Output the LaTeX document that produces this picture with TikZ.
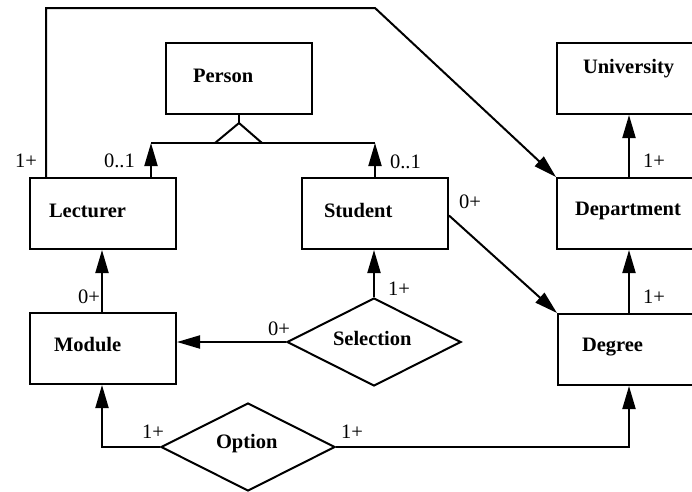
\documentclass[tikz,border=0pt]{standalone}
\usepackage{fontspec}
\setmainfont{Liberation Serif}
\usetikzlibrary{arrows.meta,shapes.geometric}
\begin{document}
\begin{tikzpicture}[x=1pt,y=-1pt,
  line width=2pt, line join=miter,
  entity/.style={draw,rectangle,minimum width=146pt,minimum height=71pt,inner sep=0pt,anchor=north west},
  relation/.style={draw,diamond,aspect=2,minimum width=174pt,minimum height=88pt,inner sep=0pt},
  title/.style={font=\fontsize{20.5}{24}\selectfont\bfseries,inner sep=0pt,anchor=base west},
  card/.style={font=\fontsize{20.5}{24}\selectfont,inner sep=0pt,anchor=base west},
  arr/.style={-{Triangle[length=23pt,width=13pt]}}]
\useasboundingbox (0,0) rectangle (692,491);
\clip (0,0) rectangle (692,491);

% entities
\node[entity] (person)     at (165,42)  {};
\node[entity] (lecturer)   at (29,177)  {};
\node[entity] (student)    at (301,177) {};
\node[entity] (module)     at (29,312)  {};
\node[entity] (university) at (556,42)  {};
\node[entity] (department) at (556,177) {};
\node[entity] (degree)     at (557,313) {};

% relationships
\node[relation] (selection) at (374,342) {};
\node[relation] (option)    at (248,447) {};

% entity and relationship names
\node[title] (tperson)     at (192,82)  {Person};
\node[title] (tlecturer)   at (48,217)  {Lecturer};
\node[title] (tstudent)    at (323,217) {Student};
\node[title] (tmodule)     at (53,351)  {Module};
\node[title] (tuniversity) at (582,73)  {University};
\node[title] (tdepartment) at (574,215) {Department};
\node[title] (tdegree)     at (581,351) {Degree};
\node[title] (tselection)  at (332,345) {Selection};
\node[title] (toption)     at (215,448) {Option};

% generalisation: Person -> Lecturer / Student
\coordinate (busL) at (151,143);
\coordinate (busR) at (375,143);
\draw (person.south) -- ++(0,8) coordinate (apex);
\draw (busL) -- (busR);
\draw (apex) -- (215,143) (apex) -- (262,143);
\draw[arr] (lecturer.north -| busL) -- (busL);
\draw[arr] (student.north -| busR) -- (busR);

% Lecturer works in Department
\coordinate (bend) at (375,8);
\draw[arr] ([xshift=17pt]lecturer.north west) |- (bend) -- (department.north west);

% Department belongs to University
\draw[arr] (department.north -| 629,0) -- (university.south -| 629,0);
% Degree offered by Department
\draw[arr] (degree.north -| 629,0) -- (department.south -| 629,0);
% Student studies Degree
\draw[arr] ([yshift=-2pt]student.east) -- (degree.north west);
% Module taught by Lecturer
\draw[arr] (module.north -| 102,0) -- (lecturer.south -| 102,0);
% Selection
\draw[arr] (selection.north) -- (student.south -| selection.north);
\draw[arr] (selection.west) -- (module.east |- selection.west);
% Option
\coordinate (optL) at (102,447);
\coordinate (optR) at (629,447);
\draw[arr] (option.west) -- (optL) -- (module.south -| optL);
\draw[arr] (option.east) -- (optR) -- (degree.south -| optR);

% cardinalities
\node[card] (c1) at (14,167)  {1+};
\node[card] (c2) at (103,167) {0..1};
\node[card] (c3) at (389,168) {0..1};
\node[card] (c4) at (642,167) {1+};
\node[card] (c5) at (458,208) {0+};
\node[card] (c6) at (77,303)  {0+};
\node[card] (c7) at (387,295) {1+};
\node[card] (c8) at (267,335) {0+};
\node[card] (c9) at (642,303) {1+};
\node[card] (c10) at (141,438) {1+};
\node[card] (c11) at (340,438) {1+};
\end{tikzpicture}
\end{document}
